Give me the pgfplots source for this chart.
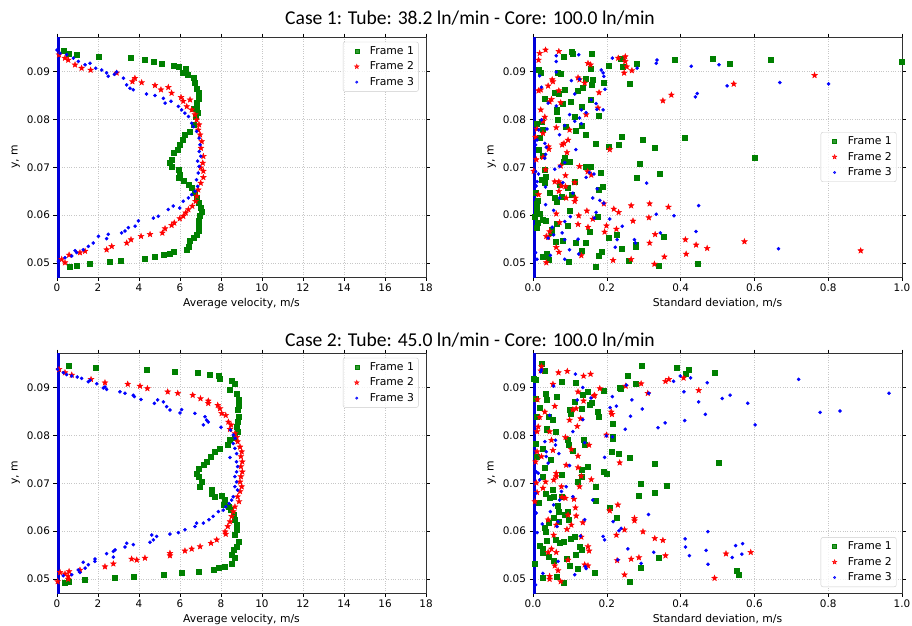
\documentclass[border=0pt]{standalone}
\usepackage{fontspec}
\setmainfont{DejaVu Sans}
\newfontfamily\titlefont{Carlito}
\usepackage{pgfplots}
\pgfplotsset{compat=1.18}

\pgfdeclareplotmark{fstar}{%
  \pgfpathmoveto{\pgfpointpolar{90}{\pgfplotmarksize}}%
  \pgfpathlineto{\pgfpointpolar{126}{0.42\pgfplotmarksize}}%
  \pgfpathlineto{\pgfpointpolar{162}{\pgfplotmarksize}}%
  \pgfpathlineto{\pgfpointpolar{198}{0.42\pgfplotmarksize}}%
  \pgfpathlineto{\pgfpointpolar{234}{\pgfplotmarksize}}%
  \pgfpathlineto{\pgfpointpolar{270}{0.42\pgfplotmarksize}}%
  \pgfpathlineto{\pgfpointpolar{306}{\pgfplotmarksize}}%
  \pgfpathlineto{\pgfpointpolar{342}{0.42\pgfplotmarksize}}%
  \pgfpathlineto{\pgfpointpolar{18}{\pgfplotmarksize}}%
  \pgfpathlineto{\pgfpointpolar{54}{0.42\pgfplotmarksize}}%
  \pgfpathclose\pgfusepathqfillstroke}

\definecolor{mplgreen}{rgb}{0,0.5,0}
\newcommand\lblfont{\fontsize{10.8}{13}\selectfont}

\pgfplotsset{
  panel/.style={
    scale only axis, width=369pt, height=240pt,
    ymin=0.0471, ymax=0.0972,
    ytick={0.05,0.06,0.07,0.08,0.09},
    scaled y ticks=false, scaled x ticks=false,
    yticklabel style={/pgf/number format/.cd, fixed, fixed zerofill, precision=2},
    /pgf/number format/assume math mode=true,
    tick label style={font=\fontsize{10.4}{12}\selectfont},
    label style={font=\lblfont},
    ylabel={y, m},
    tick align=outside, major tick length=3.5pt,
    tick style={black, line width=0.6pt},
    axis line style={black!80, line width=0.8pt},
    grid=major, grid style={dotted, black!22, line width=0.6pt},
    legend cell align=left,
    legend image code/.code={\path (0pt,0pt) (22pt,0pt); \draw[#1,mark size=0.8\pgfplotmarksize] plot coordinates {(11pt,0pt)};},
    legend style={draw=black!20, rounded corners=2pt, fill=white, fill opacity=0.8, text opacity=1,
      font=\lblfont, nodes={font=\lblfont}, row sep=2pt, inner sep=2.5pt},
  },
  vel/.style={xmin=0, xmax=18, xtick={0,2,...,18}, xlabel={Average velocity, m/s}},
  std/.style={xmin=0, xmax=1, xtick={0,0.2,0.4,0.6,0.8,1.0},
    xticklabel style={/pgf/number format/.cd, fixed, fixed zerofill, precision=1},
    xlabel={Standard deviation, m/s}},
  f1/.style={only marks, mark=square*, mark size=2.5pt, color=mplgreen},
  f2/.style={only marks, mark=fstar, mark size=3pt, color=red},
  f3/.style={only marks, mark=*, mark size=1.6pt, color=blue},
  zline/.style={blue!85!black, line width=5pt, forget plot},
}

\begin{document}
\begin{tikzpicture}
\useasboundingbox (0,0) rectangle (912pt,625pt);

\node[font=\titlefont\fontsize{19.6}{23}\selectfont] at (470pt,607pt) {Case 1: Tube: 38.2 ln/min - Core: 100.0 ln/min};
\node[font=\titlefont\fontsize{19.6}{23}\selectfont] at (470pt,285pt) {Case 2: Tube: 45.0 ln/min - Core: 100.0 ln/min};

% ---------- Case 1, average velocity
\begin{axis}[panel, vel, at={(57pt,348pt)}, anchor=south west,
  legend style={at={(0.98,0.98)}, anchor=north east}]
\addplot[zline] coordinates {(0,0.04) (0,0.1)};
\addplot[f1] coordinates {
(0.31,0.0943) (0.55,0.0938) (0.96,0.0935) (2.02,0.0931) (3.59,0.0928) (4.26,0.0924)
(4.70,0.0921) (5.10,0.0917) (5.70,0.0912) (5.95,0.0909) (6.29,0.0905) (6.13,0.0897)
(6.36,0.0893) (6.65,0.0886) (6.73,0.0876) (6.81,0.0865) (6.89,0.0855) (6.89,0.0844)
(6.81,0.0834) (6.81,0.0824) (6.65,0.0822) (6.86,0.0815) (6.75,0.0805) (6.65,0.0789)
(6.49,0.0775) (6.24,0.0768) (6.13,0.0758) (6.00,0.0747) (5.89,0.0737) (5.68,0.0730)
(5.60,0.0716) (5.50,0.0709) (5.60,0.0702) (5.95,0.0695) (6.00,0.0685) (5.95,0.0678)
(6.16,0.0671) (6.41,0.0664) (6.57,0.0657) (6.73,0.0647) (6.81,0.0636) (6.93,0.0626)
(7.00,0.0615) (7.06,0.0608) (6.98,0.0598) (6.93,0.0588) (6.89,0.0577) (6.93,0.0567)
(6.81,0.0560) (6.65,0.0553) (6.49,0.0546) (6.41,0.0535) (6.33,0.0528) (5.67,0.0524)
(5.51,0.0520) (5.19,0.0517) (4.78,0.0514) (4.29,0.0510) (3.11,0.0506) (2.59,0.0502)
(1.61,0.0499) (0.96,0.0495) (0.63,0.0492)
};
\addplot[f2] coordinates {
(0.10,0.0935) (0.39,0.0928) (0.55,0.0924) (0.88,0.0914) (1.20,0.0907) (1.64,0.0903)
(2.91,0.0897) (3.80,0.0886) (4.13,0.0877) (3.68,0.0879) (4.78,0.0871) (5.07,0.0862)
(5.43,0.0867) (5.59,0.0855) (6.05,0.0846) (6.49,0.0841) (6.16,0.0838) (6.33,0.0827)
(6.57,0.0820) (6.73,0.0810) (6.81,0.0799) (6.93,0.0789) (6.89,0.0778) (6.98,0.0768)
(7.06,0.0754) (7.02,0.0740) (7.14,0.0723) (7.11,0.0709) (7.01,0.0699) (7.14,0.0692)
(7.14,0.0679) (7.01,0.0667) (6.89,0.0653) (6.81,0.0640) (6.76,0.0629) (6.60,0.0619)
(6.41,0.0612) (6.28,0.0605) (6.16,0.0598) (5.99,0.0593) (5.72,0.0584) (5.59,0.0579)
(5.27,0.0572) (5.14,0.0563) (4.54,0.0560) (4.10,0.0556) (3.61,0.0549) (3.40,0.0542)
(2.67,0.0535) (2.42,0.0528) (1.37,0.0525) (1.12,0.0522) (0.59,0.0517) (0.23,0.0508)
(0.39,0.0501)
};
\addplot[f3] coordinates {
(0.00,0.0945) (0.15,0.0938) (0.47,0.0935) (0.80,0.0928) (1.04,0.0921) (1.37,0.0914)
(1.61,0.0917) (1.89,0.0907) (2.18,0.0903) (2.42,0.0897) (2.50,0.0890) (2.80,0.0894)
(2.91,0.0899) (3.24,0.0886) (3.40,0.0872) (3.56,0.0865) (3.72,0.0862) (4.37,0.0853)
(4.78,0.0850) (5.19,0.0844) (5.27,0.0834) (5.56,0.0838) (5.92,0.0827) (6.08,0.0820)
(6.24,0.0813) (6.41,0.0806) (6.57,0.0792) (6.65,0.0785) (6.81,0.0775) (6.93,0.0761)
(6.98,0.0747) (6.94,0.0733) (7.01,0.0723) (6.86,0.0713) (6.93,0.0702) (6.89,0.0688)
(6.81,0.0674) (6.86,0.0660) (6.73,0.0650) (6.57,0.0643) (6.41,0.0636) (6.16,0.0629)
(5.99,0.0615) (5.67,0.0619) (5.43,0.0612) (4.94,0.0598) (4.70,0.0594) (3.97,0.0588)
(3.81,0.0577) (3.48,0.0574) (3.32,0.0567) (3.15,0.0563) (2.50,0.0560) (2.42,0.0551)
(2.02,0.0556) (1.77,0.0542) (1.53,0.0535) (1.28,0.0528) (0.96,0.0522) (0.88,0.0526)
(0.72,0.0515) (0.39,0.0511) (0.07,0.0504)
};
\legend{Frame 1, Frame 2, Frame 3}
\end{axis}

% ---------- Case 1, standard deviation
\begin{axis}[panel, std, at={(533pt,348pt)}, anchor=south west,
  legend style={at={(0.985,0.5)}, anchor=east}]
\addplot[zline] coordinates {(0,0.04) (0,0.1)};
\addplot[f1] coordinates {
(0.104,0.0942) (0.108,0.0938) (0.158,0.0938) (0.083,0.0931) (0.239,0.0926) (0.384,0.0924)
(0.282,0.0917) (0.205,0.0913) (0.156,0.0906) (0.244,0.0911) (0.015,0.0903) (0.021,0.0897)
(0.068,0.0897) (0.075,0.0895) (0.262,0.0874) (0.144,0.0884) (0.158,0.0872) (0.161,0.0883)
(0.191,0.0877) (0.122,0.0860) (0.086,0.0863) (0.059,0.0856) (0.070,0.0853) (0.032,0.0844)
(0.135,0.0867) (0.156,0.0841) (0.131,0.0827) (0.101,0.0837) (0.063,0.0820) (0.063,0.0817)
(0.081,0.0833) (0.179,0.0807) (0.113,0.0805) (0.068,0.0800) (0.023,0.0796) (0.009,0.0792)
(0.027,0.0778) (0.088,0.0785) (0.131,0.0787) (0.117,0.0776) (0.144,0.0768) (0.018,0.0761)
(0.016,0.0737) (0.171,0.0750) (0.206,0.0743) (0.233,0.0747) (0.241,0.0764) (0.296,0.0757)
(0.329,0.0740) (0.412,0.0761) (0.601,0.0721) (0.027,0.0724) (0.086,0.0719) (0.099,0.0711)
(0.083,0.0712) (0.143,0.0702) (0.155,0.0702) (0.289,0.0707) (0.183,0.0689) (0.343,0.0686)
(0.282,0.0679) (0.033,0.0695) (0.034,0.0681) (0.023,0.0674) (0.032,0.0667) (0.113,0.0670)
(0.072,0.0663) (0.095,0.0657) (0.190,0.0660) (0.179,0.0653) (0.007,0.0647) (0.045,0.0646)
(0.104,0.0643) (0.079,0.0639) (0.059,0.0636) (0.063,0.0629) (0.014,0.0631) (0.009,0.0624)
(0.009,0.0615) (0.009,0.0606) (0.018,0.0603) (0.005,0.0597) (0.099,0.0610) (0.174,0.0597)
(0.025,0.0590) (0.034,0.0588) (0.014,0.0585) (0.063,0.0582) (0.095,0.0578) (0.009,0.0574)
(0.052,0.0570) (0.052,0.0564) (0.153,0.0566) (0.355,0.0556) (0.226,0.0559) (0.206,0.0552)
(0.061,0.0545) (0.081,0.0547) (0.117,0.0542) (0.142,0.0542) (0.240,0.0531) (0.277,0.0538)
(0.277,0.0535) (0.131,0.0526) (0.185,0.0523) (0.036,0.0519) (0.043,0.0508) (0.027,0.0513)
(0.179,0.0516) (0.260,0.0506) (0.097,0.0502) (0.170,0.0492) (0.340,0.0494) (0.445,0.0498)
(0.486,0.0926) (0.534,0.0917) (0.645,0.0924) (1.000,0.0921)
};
\addplot[f2] coordinates {
(0.034,0.0945) (0.018,0.0938) (0.070,0.0942) (0.015,0.0924) (0.149,0.0917) (0.156,0.0914)
(0.231,0.0928) (0.250,0.0931) (0.250,0.0921) (0.247,0.0897) (0.254,0.0910) (0.268,0.0902)
(0.122,0.0887) (0.126,0.0883) (0.140,0.0876) (0.052,0.0883) (0.054,0.0879) (0.041,0.0870)
(0.070,0.0860) (0.021,0.0862) (0.015,0.0860) (0.050,0.0842) (0.045,0.0837) (0.075,0.0835)
(0.179,0.0856) (0.176,0.0824) (0.144,0.0810) (0.021,0.0820) (0.032,0.0805) (0.027,0.0796)
(0.011,0.0780) (0.027,0.0771) (0.007,0.0763) (0.063,0.0783) (0.099,0.0778) (0.095,0.0757)
(0.084,0.0750) (0.079,0.0747) (0.042,0.0743) (0.043,0.0738) (0.208,0.0737) (0.092,0.0731)
(0.027,0.0721) (0.009,0.0716) (0.075,0.0703) (0.126,0.0702) (0.034,0.0695) (0.002,0.0692)
(0.148,0.0691) (0.158,0.0684) (0.088,0.0683) (0.070,0.0670) (0.059,0.0670) (0.113,0.0668)
(0.113,0.0629) (0.077,0.0661) (0.088,0.0660) (0.070,0.0650) (0.015,0.0643) (0.090,0.0636)
(0.115,0.0636) (0.192,0.0624) (0.266,0.0620) (0.316,0.0624) (0.367,0.0617) (0.219,0.0613)
(0.232,0.0606) (0.314,0.0595) (0.063,0.0603) (0.146,0.0609) (0.124,0.0599) (0.162,0.0592)
(0.271,0.0588) (0.072,0.0585) (0.122,0.0581) (0.199,0.0578) (0.226,0.0571) (0.194,0.0565)
(0.149,0.0575) (0.045,0.0566) (0.036,0.0556) (0.041,0.0554) (0.331,0.0560) (0.413,0.0549)
(0.442,0.0538) (0.316,0.0542) (0.573,0.0545) (0.472,0.0531) (0.415,0.0519) (0.356,0.0513)
(0.217,0.0506) (0.266,0.0508) (0.131,0.0516) (0.070,0.0523) (0.063,0.0533) (0.036,0.0501)
(0.329,0.0498) (0.763,0.0892) (0.544,0.0874) (0.375,0.0851) (0.352,0.0839) (0.888,0.0526)
};
\addplot[f3] coordinates {
(0.063,0.0933) (0.063,0.0921) (0.124,0.0935) (0.215,0.0928) (0.334,0.0917) (0.336,0.0924)
(0.282,0.0907) (0.429,0.0911) (0.504,0.0914) (0.018,0.0891) (0.023,0.0867) (0.063,0.0899)
(0.104,0.0881) (0.126,0.0884) (0.185,0.0903) (0.190,0.0897) (0.192,0.0890) (0.195,0.0863)
(0.113,0.0853) (0.144,0.0814) (0.131,0.0820) (0.041,0.0834) (0.023,0.0799) (0.016,0.0778)
(0.038,0.0780) (0.063,0.0828) (0.099,0.0810) (0.113,0.0796) (0.126,0.0803) (0.131,0.0791)
(0.158,0.0841) (0.171,0.0833) (0.173,0.0821) (0.190,0.0820) (0.086,0.0787) (0.072,0.0768)
(0.011,0.0757) (0.007,0.0747) (0.032,0.0750) (0.036,0.0742) (0.034,0.0727) (0.032,0.0719)
(0.116,0.0737) (0.086,0.0710) (0.072,0.0702) (0.059,0.0696) (0.007,0.0691) (0.015,0.0686)
(0.011,0.0670) (0.009,0.0661) (0.034,0.0659) (0.144,0.0679) (0.153,0.0689) (0.165,0.0686)
(0.174,0.0655) (0.162,0.0636) (0.081,0.0668) (0.108,0.0646) (0.072,0.0636) (0.034,0.0622)
(0.056,0.0610) (0.101,0.0597) (0.086,0.0587) (0.052,0.0575) (0.181,0.0631) (0.192,0.0625)
(0.171,0.0606) (0.166,0.0594) (0.208,0.0592) (0.242,0.0577) (0.228,0.0549) (0.275,0.0549)
(0.278,0.0542) (0.334,0.0602) (0.345,0.0563) (0.382,0.0599) (0.449,0.0620) (0.442,0.0566)
(0.041,0.0552) (0.056,0.0559) (0.086,0.0549) (0.122,0.0550) (0.086,0.0508) (0.099,0.0528)
(0.124,0.0519) (0.223,0.0533) (0.007,0.0522) (0.011,0.0508) (0.047,0.0516) (0.079,0.0563)
(0.665,0.0530) (0.526,0.0870) (0.669,0.0877) (0.801,0.0874) (0.440,0.0847) (0.445,0.0854)
(0.308,0.0667)
};
\legend{Frame 1, Frame 2, Frame 3}
\end{axis}

% ---------- Case 2, average velocity
\begin{axis}[panel, vel, at={(57pt,32pt)}, anchor=south west,
  legend style={at={(0.98,0.98)}, anchor=north east}]
\addplot[zline] coordinates {(0,0.04) (0,0.1)};
\addplot[f1] coordinates {
(0.55,0.0945) (1.89,0.0942) (4.37,0.0938) (5.76,0.0934) (6.85,0.0931) (7.43,0.0927)
(7.87,0.0924) (7.92,0.0919) (8.52,0.0914) (8.68,0.0908) (8.44,0.0896) (8.76,0.0888)
(8.85,0.0874) (8.88,0.0863) (8.81,0.0853) (8.88,0.0839) (8.81,0.0828) (8.76,0.0818)
(8.81,0.0808) (8.68,0.0796) (8.44,0.0790) (8.31,0.0780) (7.95,0.0773) (7.67,0.0766)
(7.51,0.0756) (7.30,0.0745) (7.14,0.0738) (6.89,0.0731) (6.81,0.0721) (6.93,0.0714)
(7.06,0.0703) (6.98,0.0693) (7.54,0.0686) (7.54,0.0679) (7.67,0.0672) (8.03,0.0674)
(8.20,0.0665) (8.11,0.0655) (8.36,0.0651) (8.49,0.0644) (8.60,0.0634) (8.68,0.0624)
(8.76,0.0613) (8.76,0.0603) (8.68,0.0592) (8.85,0.0578) (8.76,0.0568) (8.60,0.0561)
(8.52,0.0551) (8.68,0.0544) (8.52,0.0533) (8.20,0.0526) (7.87,0.0523) (7.62,0.0519)
(6.89,0.0516) (6.08,0.0514) (5.19,0.0509) (3.72,0.0506) (2.80,0.0502) (1.33,0.0499)
(0.55,0.0495) (0.36,0.0492)
};
\addplot[f2] coordinates {
(0.10,0.0938) (0.39,0.0931) (0.72,0.0926) (1.66,0.0917) (2.34,0.0910) (3.45,0.0907)
(4.05,0.0903) (4.41,0.0898) (5.40,0.0891) (5.89,0.0888) (6.62,0.0884) (7.00,0.0877)
(7.38,0.0872) (7.38,0.0867) (7.84,0.0863) (7.95,0.0856) (8.03,0.0846) (8.23,0.0842)
(8.36,0.0828) (8.49,0.0822) (8.44,0.0813) (8.68,0.0804) (8.76,0.0796) (8.81,0.0787)
(8.93,0.0776) (9.01,0.0766) (8.97,0.0756) (9.04,0.0745) (8.97,0.0735) (9.04,0.0724)
(8.97,0.0714) (8.93,0.0703) (9.01,0.0693) (8.93,0.0683) (8.81,0.0672) (8.88,0.0662)
(8.68,0.0651) (8.60,0.0641) (8.52,0.0631) (8.44,0.0620) (8.33,0.0610) (8.20,0.0599)
(8.23,0.0594) (7.79,0.0582) (7.51,0.0575) (6.98,0.0568) (6.57,0.0563) (6.24,0.0559)
(5.51,0.0554) (5.51,0.0549) (4.29,0.0544) (3.89,0.0540) (3.64,0.0542) (2.75,0.0532)
(2.34,0.0526) (1.12,0.0519) (0.59,0.0516) (0.39,0.0511) (0.15,0.0514) (0.55,0.0506)
(0.55,0.0500) (0.03,0.0495)
};
\addplot[f3] coordinates {
(0.03,0.0938) (0.31,0.0931) (0.47,0.0927) (0.72,0.0924) (0.99,0.0922) (1.20,0.0919)
(1.53,0.0912) (1.61,0.0915) (1.94,0.0908) (2.26,0.0899) (2.42,0.0896) (2.34,0.0901)
(3.07,0.0891) (3.32,0.0888) (3.72,0.0884) (3.77,0.0881) (4.10,0.0875) (4.75,0.0867)
(4.91,0.0874) (5.19,0.0870) (5.35,0.0860) (5.51,0.0853) (6.08,0.0854) (6.00,0.0847)
(6.73,0.0846) (7.22,0.0839) (7.30,0.0832) (7.38,0.0828) (7.14,0.0822) (8.00,0.0817)
(8.47,0.0811) (8.60,0.0801) (8.68,0.0794) (8.60,0.0783) (8.68,0.0773) (8.76,0.0762)
(8.44,0.0754) (8.76,0.0745) (8.81,0.0735) (8.76,0.0724) (8.68,0.0714) (8.76,0.0703)
(8.68,0.0693) (8.81,0.0686) (8.60,0.0672) (8.52,0.0665) (8.39,0.0658) (8.23,0.0651)
(8.11,0.0644) (7.87,0.0641) (7.62,0.0631) (7.41,0.0624) (7.14,0.0617) (6.81,0.0617)
(6.73,0.0610) (6.24,0.0603) (5.92,0.0597) (5.51,0.0594) (4.86,0.0589) (4.62,0.0592)
(4.70,0.0582) (4.54,0.0577) (3.72,0.0572) (3.40,0.0575) (3.32,0.0567) (2.83,0.0561)
(2.75,0.0558) (2.42,0.0553) (2.75,0.0546) (1.85,0.0542) (1.85,0.0537) (1.53,0.0530)
(1.28,0.0535) (1.37,0.0523) (1.04,0.0519) (1.12,0.0514) (0.72,0.0509) (0.31,0.0507)
};
\legend{Frame 1, Frame 2, Frame 3}
\end{axis}

% ---------- Case 2, standard deviation
\begin{axis}[panel, std, at={(533pt,32pt)}, anchor=south west,
  legend style={at={(0.985,0.025)}, anchor=south east}]
\addplot[zline] coordinates {(0,0.04) (0,0.1)};
\addplot[f1] coordinates {
(0.023,0.0949) (0.032,0.0935) (0.002,0.0919) (0.007,0.0917) (0.077,0.0913) (0.117,0.0910)
(0.149,0.0891) (0.191,0.0894) (0.235,0.0900) (0.237,0.0897) (0.257,0.0924) (0.278,0.0907)
(0.295,0.0945) (0.390,0.0942) (0.415,0.0929) (0.422,0.0938) (0.492,0.0931) (0.034,0.0888)
(0.038,0.0874) (0.063,0.0881) (0.018,0.0858) (0.007,0.0877) (0.099,0.0853) (0.101,0.0846)
(0.113,0.0870) (0.131,0.0855) (0.134,0.0884) (0.153,0.0865) (0.158,0.0868) (0.176,0.0849)
(0.179,0.0838) (0.217,0.0824) (0.215,0.0797) (0.215,0.0794) (0.009,0.0839) (0.043,0.0840)
(0.054,0.0833) (0.036,0.0815) (0.061,0.0808) (0.038,0.0811) (0.007,0.0783) (0.025,0.0773)
(0.047,0.0749) (0.093,0.0790) (0.097,0.0780) (0.108,0.0769) (0.138,0.0790) (0.140,0.0780)
(0.213,0.0765) (0.233,0.0761) (0.262,0.0753) (0.330,0.0740) (0.504,0.0743) (0.009,0.0756)
(0.032,0.0733) (0.027,0.0714) (0.079,0.0717) (0.131,0.0728) (0.149,0.0735) (0.133,0.0714)
(0.120,0.0703) (0.191,0.0724) (0.200,0.0721) (0.293,0.0700) (0.363,0.0695) (0.169,0.0693)
(0.034,0.0679) (0.054,0.0686) (0.045,0.0669) (0.077,0.0672) (0.056,0.0672) (0.287,0.0674)
(0.330,0.0681) (0.171,0.0664) (0.015,0.0660) (0.068,0.0653) (0.208,0.0649) (0.070,0.0641)
(0.095,0.0641) (0.086,0.0635) (0.056,0.0629) (0.070,0.0620) (0.097,0.0625) (0.227,0.0628)
(0.043,0.0617) (0.032,0.0608) (0.034,0.0599) (0.038,0.0580) (0.018,0.0569) (0.025,0.0563)
(0.027,0.0556) (0.043,0.0547) (0.061,0.0583) (0.072,0.0575) (0.083,0.0578) (0.101,0.0584)
(0.113,0.0589) (0.126,0.0567) (0.133,0.0561) (0.117,0.0552) (0.092,0.0542) (0.056,0.0538)
(0.099,0.0528) (0.122,0.0521) (0.167,0.0514) (0.027,0.0502) (0.063,0.0506) (0.083,0.0492)
(0.292,0.0523) (0.340,0.0545) (0.263,0.0494) (0.552,0.0517) (0.557,0.0509) (0.005,0.0533)
};
\addplot[f2] coordinates {
(0.023,0.0944) (0.021,0.0935) (0.069,0.0931) (0.093,0.0934) (0.137,0.0924) (0.156,0.0928)
(0.054,0.0907) (0.122,0.0891) (0.167,0.0884) (0.181,0.0898) (0.251,0.0903) (0.293,0.0908)
(0.311,0.0888) (0.359,0.0913) (0.368,0.0917) (0.408,0.0920) (0.449,0.0894) (0.012,0.0875)
(0.032,0.0849) (0.018,0.0838) (0.014,0.0818) (0.011,0.0808) (0.059,0.0861) (0.045,0.0808)
(0.050,0.0790) (0.054,0.0769) (0.023,0.0756) (0.011,0.0766) (0.007,0.0745) (0.108,0.0854)
(0.099,0.0832) (0.117,0.0856) (0.129,0.0835) (0.137,0.0872) (0.165,0.0882) (0.120,0.0819)
(0.088,0.0796) (0.104,0.0771) (0.122,0.0757) (0.152,0.0780) (0.212,0.0849) (0.214,0.0844)
(0.199,0.0801) (0.235,0.0743) (0.090,0.0738) (0.122,0.0733) (0.063,0.0721) (0.063,0.0714)
(0.056,0.0707) (0.034,0.0703) (0.027,0.0690) (0.009,0.0701) (0.011,0.0681) (0.005,0.0662)
(0.077,0.0693) (0.079,0.0671) (0.088,0.0669) (0.131,0.0715) (0.158,0.0708) (0.111,0.0667)
(0.126,0.0693) (0.115,0.0649) (0.117,0.0632) (0.095,0.0634) (0.041,0.0624) (0.063,0.0613)
(0.056,0.0592) (0.050,0.0563) (0.104,0.0613) (0.135,0.0618) (0.092,0.0604) (0.208,0.0643)
(0.230,0.0655) (0.275,0.0627) (0.275,0.0622) (0.248,0.0603) (0.298,0.0599) (0.226,0.0592)
(0.330,0.0585) (0.352,0.0581) (0.131,0.0588) (0.149,0.0568) (0.152,0.0559) (0.063,0.0556)
(0.041,0.0556) (0.095,0.0540) (0.059,0.0528) (0.068,0.0518) (0.045,0.0506) (0.045,0.0500)
(0.075,0.0495) (0.140,0.0530) (0.149,0.0528) (0.228,0.0539) (0.266,0.0542) (0.287,0.0545)
(0.359,0.0549) (0.248,0.0509) (0.492,0.0502) (0.523,0.0553) (0.590,0.0556)
};
\addplot[f3] coordinates {
(0.021,0.0933) (0.023,0.0937) (0.056,0.0903) (0.135,0.0900) (0.115,0.0928) (0.215,0.0881)
(0.209,0.0858) (0.226,0.0861) (0.253,0.0905) (0.268,0.0874) (0.264,0.0840) (0.250,0.0813)
(0.296,0.0855) (0.314,0.0888) (0.339,0.0816) (0.358,0.0826) (0.381,0.0913) (0.399,0.0924)
(0.409,0.0891) (0.427,0.0920) (0.411,0.0831) (0.449,0.0870) (0.467,0.0844) (0.472,0.0910)
(0.513,0.0877) (0.534,0.0884) (0.582,0.0867) (0.602,0.0822) (0.720,0.0917) (0.778,0.0848)
(0.832,0.0851) (0.965,0.0888) (0.549,0.0570) (0.568,0.0574) (0.540,0.0545) (0.566,0.0552)
(0.474,0.0599) (0.412,0.0584) (0.413,0.0567) (0.424,0.0549) (0.469,0.0560) (0.474,0.0531)
(0.327,0.0556) (0.293,0.0533) (0.257,0.0563) (0.230,0.0540) (0.239,0.0606) (0.233,0.0601)
(0.217,0.0620) (0.190,0.0589) (0.194,0.0582) (0.313,0.0635) (0.215,0.0797) (0.194,0.0754)
(0.199,0.0799) (0.162,0.0665) (0.140,0.0624) (0.129,0.0590) (0.108,0.0672) (0.108,0.0808)
(0.140,0.0785) (0.135,0.0833) (0.099,0.0737) (0.090,0.0693) (0.077,0.0683) (0.072,0.0665)
(0.068,0.0620) (0.065,0.0610) (0.047,0.0641) (0.041,0.0742) (0.036,0.0766) (0.032,0.0787)
(0.061,0.0790) (0.061,0.0780) (0.009,0.0724) (0.014,0.0721) (0.018,0.0707) (0.007,0.0679)
(0.011,0.0597) (0.025,0.0615) (0.027,0.0512) (0.007,0.0488) (0.113,0.0509) (0.142,0.0526)
(0.144,0.0522) (0.036,0.0756) (0.045,0.0842) (0.070,0.0762) (0.056,0.0655) (0.009,0.0638)
(0.068,0.0537) (0.120,0.0874) (0.157,0.0878)
};
\legend{Frame 1, Frame 2, Frame 3}
\end{axis}
\end{tikzpicture}
\end{document}
